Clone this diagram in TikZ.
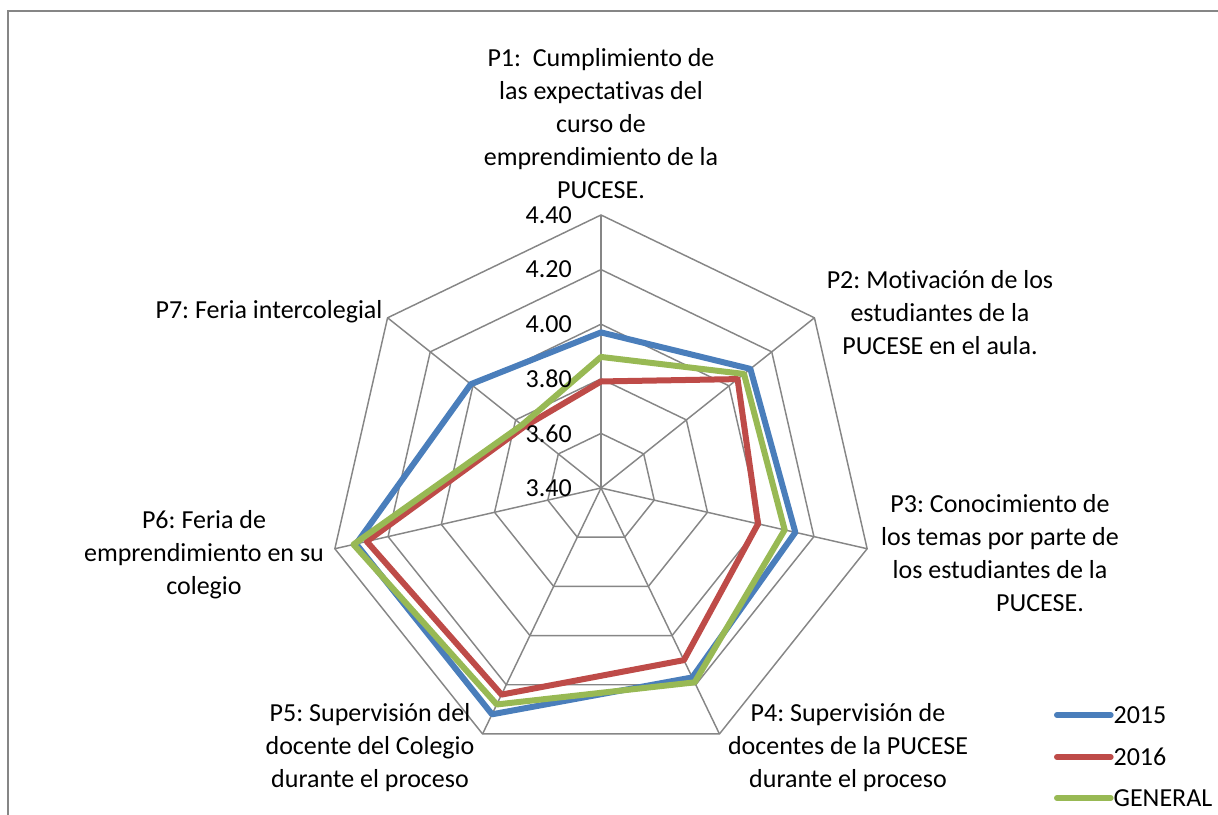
\documentclass[tikz,border=0pt]{standalone}
\usepackage{fontspec}
\setmainfont{Carlito}[Ligatures=NoCommon]
\frenchspacing
\definecolor{gridgray}{RGB}{134,134,134}
\definecolor{blue15}{RGB}{74,126,187}
\definecolor{red16}{RGB}{190,75,72}
\definecolor{greengen}{RGB}{152,185,84}
\tikzset{
  lbl/.style={align=center,inner sep=0pt,font=\fontsize{19.5bp}{24.75bp}\selectfont},
  tick/.style={anchor=east,inner sep=0pt,font=\fontsize{19.5bp}{24.75bp}\selectfont},
  leg/.style={anchor=west,inner sep=2bp,font=\fontsize{19.5bp}{24.75bp}\selectfont},
  grid/.style={draw=gridgray,line width=1.1bp},
  serie/.style={line width=4.5bp,line join=round,line cap=round}
}
\begin{document}
\begin{tikzpicture}
  \useasboundingbox (0bp,0bp) rectangle (913.5bp,611.25bp);
  \draw [draw=gridgray,line width=1.6bp] (5.9bp,0bp) -- (5.9bp,603bp) -- (913.5bp,603bp);
  \begin{scope}[shift={(450.75bp,245.25bp)}]
  \draw [grid] (90:40.95bp) -- (38.571:40.95bp) -- (-12.857:40.95bp) -- (-64.286:40.95bp) -- (-115.714:40.95bp) -- (-167.143:40.95bp) -- (141.429:40.95bp) -- cycle;
  \draw [grid] (90:81.9bp) -- (38.571:81.9bp) -- (-12.857:81.9bp) -- (-64.286:81.9bp) -- (-115.714:81.9bp) -- (-167.143:81.9bp) -- (141.429:81.9bp) -- cycle;
  \draw [grid] (90:122.85bp) -- (38.571:122.85bp) -- (-12.857:122.85bp) -- (-64.286:122.85bp) -- (-115.714:122.85bp) -- (-167.143:122.85bp) -- (141.429:122.85bp) -- cycle;
  \draw [grid] (90:163.8bp) -- (38.571:163.8bp) -- (-12.857:163.8bp) -- (-64.286:163.8bp) -- (-115.714:163.8bp) -- (-167.143:163.8bp) -- (141.429:163.8bp) -- cycle;
  \draw [grid] (90:204.75bp) -- (38.571:204.75bp) -- (-12.857:204.75bp) -- (-64.286:204.75bp) -- (-115.714:204.75bp) -- (-167.143:204.75bp) -- (141.429:204.75bp) -- cycle;
  \draw [grid] (0,0) -- (90:204.75bp);
  \draw [grid] (0,0) -- (38.571:204.75bp);
  \draw [grid] (0,0) -- (-12.857:204.75bp);
  \draw [grid] (0,0) -- (-64.286:204.75bp);
  \draw [grid] (0,0) -- (-115.714:204.75bp);
  \draw [grid] (0,0) -- (-167.143:204.75bp);
  \draw [grid] (0,0) -- (141.429:204.75bp);
  \draw [serie,blue15] (90:116.7bp) -- (38.571:143.3bp) -- (-12.857:149.5bp) -- (-64.286:157.7bp) -- (-115.714:188.4bp) -- (-167.143:188.4bp) -- (141.429:124.9bp) -- cycle;
  \draw [serie,red16] (90:79.9bp) -- (38.571:131.0bp) -- (-12.857:120.8bp) -- (-64.286:143.3bp) -- (-115.714:172.0bp) -- (-167.143:180.2bp) -- (141.429:73.7bp) -- cycle;
  \draw [serie,greengen] (90:98.3bp) -- (38.571:137.2bp) -- (-12.857:141.3bp) -- (-64.286:161.8bp) -- (-115.714:180.2bp) -- (-167.143:190.4bp) -- (141.429:75.8bp) -- cycle;
  \end{scope}
  \node (t340) at (429bp,245.25bp) [tick] {3.40};
  \node (t360) at (429bp,286.2bp) [tick] {3.60};
  \node (t380) at (429bp,327.15bp) [tick] {3.80};
  \node (t400) at (429bp,368.1bp) [tick] {4.00};
  \node (t420) at (429bp,409.05bp) [tick] {4.20};
  \node (t440) at (429bp,450.0bp) [tick] {4.40};
  \node (p1) at (450.75bp,518.6bp) [lbl] {P1:\ \ Cumplimiento de\\las expectativas del\\curso de\\emprendimiento de la\\PUCESE.};
  \node (p2) at (705bp,376.5bp) [lbl] {P2: Motivación de los\\estudiantes de la\\PUCESE en el aula.};
  \node (p3) at (750bp,196.5bp) [lbl] {P3: Conocimiento de\\los temas por parte de\\los estudiantes de la\\\hspace*{60bp}PUCESE.};
  \node (p4) at (636bp,50.25bp) [lbl] {P4: Supervisión de\\docentes de la PUCESE\\durante el proceso};
  \node (p5) at (277.5bp,50.25bp) [lbl] {P5: Supervisión del\\docente del Colegio\\durante el proceso};
  \node (p6) at (153bp,195bp) [lbl] {P6: Feria de\\emprendimiento en su\\colegio};
  \node (p7) at (201.75bp,377.25bp) [lbl] {P7: Feria intercolegial};
  \node (l2015) at (833bp,75bp) [leg] {2015};
  \node (l2016) at (833bp,43.5bp) [leg] {2016};
  \node (lgen) at (833bp,12.75bp) [leg] {GENERAL};
  \draw [serie,blue15] (792.75bp,75bp) -- (l2015.west);
  \draw [serie,red16] (792.75bp,43.5bp) -- (l2016.west);
  \draw [serie,greengen] (792.75bp,12.75bp) -- (lgen.west);
\end{tikzpicture}
\end{document}
